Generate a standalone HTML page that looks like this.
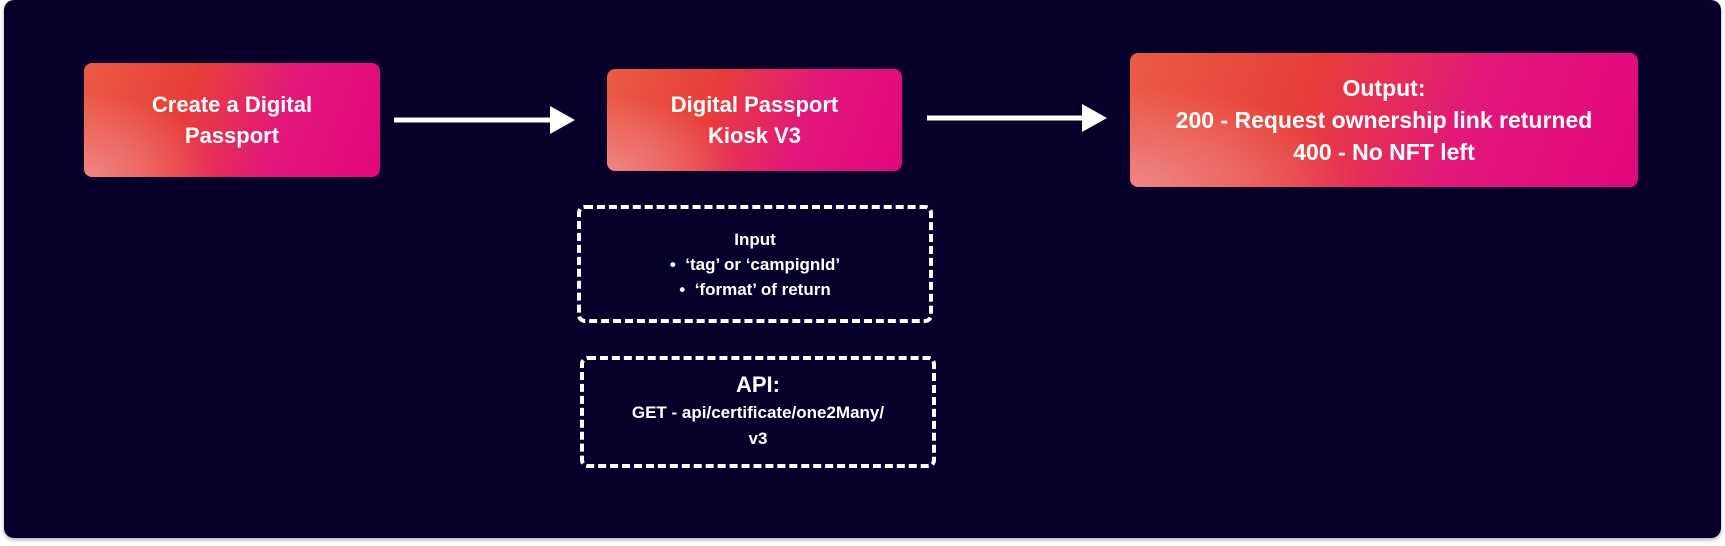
<!DOCTYPE html>
<html><head><meta charset="utf-8"><style>
*{margin:0;padding:0;box-sizing:border-box}
body{width:1725px;height:546px;background:#fff;position:relative;overflow:hidden;font-family:"Liberation Sans",sans-serif;color:#fff}
.card{position:absolute;left:4px;top:0;width:1717px;height:538px;background:#08002a;border-radius:10px;box-shadow:0 2px 4px rgba(0,0,0,.3)}
.g{position:absolute;border-radius:8px;background:radial-gradient(ellipse 45% 75% at 0% 100%,rgba(240,140,140,.9),rgba(240,140,140,0) 100%),linear-gradient(110deg,#ea5b45 0%,#e83e3a 35%,#e2187a 65%,#e2067f 100%);display:flex;align-items:center;justify-content:center;text-align:center;font-weight:bold;font-size:22px;line-height:31px;overflow:hidden}
.d{position:absolute;border:4px dashed #fff;border-radius:8px;display:flex;align-items:center;justify-content:center;text-align:center}
</style></head><body>
<div class="card"></div>
<div class="g" style="left:84px;top:63px;width:296px;height:114px"><span>Create a Digital<br>Passport</span></div>
<div class="g" style="left:607px;top:69px;width:295px;height:102px"><span>Digital Passport<br>Kiosk V3</span></div>
<div class="g" style="left:1130px;top:53px;width:508px;height:134px;font-size:23px;line-height:32px"><span>Output:<br>200 - Request ownership link returned<br>400 - No NFT left</span></div>
<svg style="position:absolute;left:0;top:0" width="1725" height="546">
<line x1="394" y1="120" x2="556" y2="120" stroke="#fff" stroke-width="5"/>
<polygon points="550,106 575,120 550,134" fill="#fff"/>
<line x1="927" y1="118" x2="1088" y2="118" stroke="#fff" stroke-width="5"/>
<polygon points="1082,104 1107,118 1082,132" fill="#fff"/>
</svg>
<div class="d" style="left:577px;top:205px;width:356px;height:118px;font-size:17px;line-height:25px;font-weight:bold"><span>Input<br>•&nbsp; ‘tag’ or ‘campignId’<br>•&nbsp; ‘format’ of return</span></div>
<div class="d" style="left:580px;top:356px;width:356px;height:112px;font-size:17px;line-height:26px;font-weight:bold"><span><span style="font-size:22px">API:</span><br>GET - api/certificate/one2Many/<br>v3</span></div>
</body></html>
